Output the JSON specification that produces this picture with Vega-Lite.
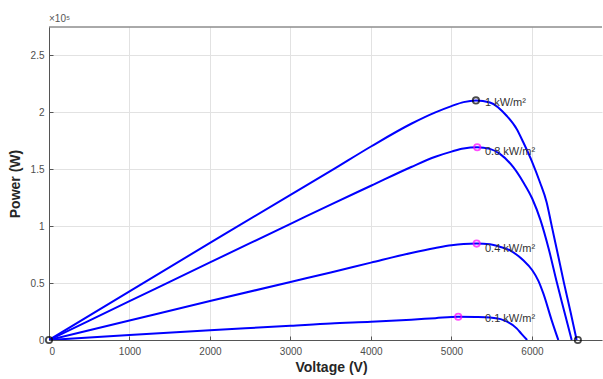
{
  "$schema": "https://vega.github.io/schema/vega-lite/v6.json",
  "width": 553,
  "height": 313,
  "autosize": {"type": "none"},
  "padding": {"left": 49, "top": 27, "right": 1, "bottom": 39},
  "background": "white",
  "config": {
    "view": {"stroke": null},
    "font": "Liberation Sans",
    "axis": {
      "labelFont": "Liberation Sans",
      "titleFont": "Liberation Sans",
      "labelFontSize": 10,
      "labelColor": "#4d4d4d",
      "titleFontSize": 14,
      "titleFontWeight": "bold",
      "titleColor": "#262626",
      "domainColor": "#555555",
      "gridColor": "#e2e2e2",
      "gridOpacity": 1,
      "ticks": true,
      "tickSize": -4,
      "tickColor": "#555555"
    }
  },
  "title": {
    "text": "×10⁵",
    "anchor": "start",
    "frame": "group",
    "fontSize": 10,
    "fontWeight": "normal",
    "color": "#555555",
    "offset": 3,
    "font": "Liberation Sans"
  },
  "datasets": {
    "curves": [
      {"level": "1", "V": 0, "P": 0}, {"level": "1", "V": 1000, "P": 42800}, {"level": "1", "V": 2000, "P": 85300},
      {"level": "1", "V": 3000, "P": 127600}, {"level": "1", "V": 3500, "P": 148500}, {"level": "1", "V": 4000, "P": 170000},
      {"level": "1", "V": 4500, "P": 190000}, {"level": "1", "V": 4800, "P": 200000}, {"level": "1", "V": 5000, "P": 205500},
      {"level": "1", "V": 5150, "P": 209000}, {"level": "1", "V": 5304, "P": 210500}, {"level": "1", "V": 5478, "P": 208700},
      {"level": "1", "V": 5685, "P": 197000}, {"level": "1", "V": 5810, "P": 185400}, {"level": "1", "V": 5892, "P": 173700},
      {"level": "1", "V": 6004, "P": 156100}, {"level": "1", "V": 6099, "P": 138600}, {"level": "1", "V": 6182, "P": 121100},
      {"level": "1", "V": 6244, "P": 100700}, {"level": "1", "V": 6320, "P": 75800}, {"level": "1", "V": 6398, "P": 50000},
      {"level": "1", "V": 6478, "P": 25000}, {"level": "1", "V": 6555, "P": 0},

      {"level": "0.8", "V": 0, "P": 0}, {"level": "0.8", "V": 1000, "P": 34100}, {"level": "0.8", "V": 2000, "P": 68200},
      {"level": "0.8", "V": 3000, "P": 102000}, {"level": "0.8", "V": 3500, "P": 119000}, {"level": "0.8", "V": 4000, "P": 135500},
      {"level": "0.8", "V": 4500, "P": 152000}, {"level": "0.8", "V": 4800, "P": 161000}, {"level": "0.8", "V": 5000, "P": 165500},
      {"level": "0.8", "V": 5150, "P": 168300}, {"level": "0.8", "V": 5320, "P": 169300}, {"level": "0.8", "V": 5478, "P": 167900},
      {"level": "0.8", "V": 5602, "P": 163500}, {"level": "0.8", "V": 5768, "P": 151800}, {"level": "0.8", "V": 5892, "P": 138600},
      {"level": "0.8", "V": 6004, "P": 124100}, {"level": "0.8", "V": 6107, "P": 105100}, {"level": "0.8", "V": 6210, "P": 79500},
      {"level": "0.8", "V": 6311, "P": 50000}, {"level": "0.8", "V": 6400, "P": 25500}, {"level": "0.8", "V": 6493, "P": 0},

      {"level": "0.4", "V": 0, "P": 0}, {"level": "0.4", "V": 1000, "P": 17100}, {"level": "0.4", "V": 2000, "P": 34200},
      {"level": "0.4", "V": 3000, "P": 51000}, {"level": "0.4", "V": 3500, "P": 59300}, {"level": "0.4", "V": 4000, "P": 68000},
      {"level": "0.4", "V": 4500, "P": 76500}, {"level": "0.4", "V": 4800, "P": 80800}, {"level": "0.4", "V": 5000, "P": 83200},
      {"level": "0.4", "V": 5150, "P": 84300}, {"level": "0.4", "V": 5313, "P": 84700}, {"level": "0.4", "V": 5478, "P": 84100},
      {"level": "0.4", "V": 5600, "P": 82000}, {"level": "0.4", "V": 5727, "P": 78800}, {"level": "0.4", "V": 5892, "P": 70000},
      {"level": "0.4", "V": 6004, "P": 61300}, {"level": "0.4", "V": 6080, "P": 52000}, {"level": "0.4", "V": 6141, "P": 40900},
      {"level": "0.4", "V": 6244, "P": 17500}, {"level": "0.4", "V": 6327, "P": 0},

      {"level": "0.1", "V": 0, "P": 0}, {"level": "0.1", "V": 1000, "P": 4300}, {"level": "0.1", "V": 2000, "P": 8500},
      {"level": "0.1", "V": 3000, "P": 12500}, {"level": "0.1", "V": 3500, "P": 14600}, {"level": "0.1", "V": 4000, "P": 16000},
      {"level": "0.1", "V": 4500, "P": 17800}, {"level": "0.1", "V": 4800, "P": 19200}, {"level": "0.1", "V": 5084, "P": 20400},
      {"level": "0.1", "V": 5300, "P": 20200}, {"level": "0.1", "V": 5478, "P": 19700}, {"level": "0.1", "V": 5644, "P": 17500},
      {"level": "0.1", "V": 5810, "P": 10200}, {"level": "0.1", "V": 5870, "P": 5400}, {"level": "0.1", "V": 5940, "P": 0}
    ],
    "markers": [
      {"V": 0, "P": 0, "color": "#000000"},
      {"V": 5304, "P": 210500, "color": "#000000"},
      {"V": 6570, "P": 0, "color": "#000000"},
      {"V": 5320, "P": 169300, "color": "#ff00ff"},
      {"V": 5313, "P": 84700, "color": "#ff00ff"},
      {"V": 5084, "P": 20400, "color": "#ff00ff"}
    ],
    "labels": [
      {"V": 5416, "P": 207800, "text": "1 kW/m²"},
      {"V": 5416, "P": 164900, "text": "0.8 kW/m²"},
      {"V": 5416, "P": 80300, "text": "0.4 kW/m²"},
      {"V": 5416, "P": 18400, "text": "0.1 kW/m²"}
    ],
    "frame": [{"P": 275000}]
  },
  "layer": [
    {
      "data": {"name": "curves"},
      "mark": {"type": "line", "color": "#0000ff", "strokeWidth": 2, "clip": true, "interpolate": "monotone"},
      "encoding": {
        "x": {
          "field": "V", "type": "quantitative",
          "scale": {"domain": [0, 6870], "nice": false},
          "axis": {
            "values": [0, 1000, 2000, 3000, 4000, 5000, 6000],
            "title": "Voltage (V)",
            "titleX": 282,
            "labelPadding": 10,
            "titlePadding": 4,
            "format": "d"
          }
        },
        "y": {
          "field": "P", "type": "quantitative",
          "scale": {"domain": [0, 275000], "nice": false},
          "axis": {
            "values": [0, 50000, 100000, 150000, 200000, 250000],
            "labelExpr": "format(datum.value / 100000, '~g')",
            "title": "Power (W)",
            "labelPadding": 9,
            "titlePadding": 8
          }
        },
        "detail": {"field": "level", "type": "nominal"}
      }
    },
    {
      "data": {"name": "frame"},
      "mark": {"type": "rule", "color": "#555555", "strokeWidth": 1},
      "encoding": {"y": {"field": "P", "type": "quantitative"}}
    },
    {
      "data": {"name": "labels"},
      "mark": {"type": "text", "align": "left", "baseline": "middle", "fontSize": 11, "color": "#333333", "font": "Liberation Sans"},
      "encoding": {
        "x": {"field": "V", "type": "quantitative"},
        "y": {"field": "P", "type": "quantitative"},
        "text": {"field": "text"}
      }
    },
    {
      "data": {"name": "markers"},
      "mark": {"type": "point", "shape": "circle", "filled": false, "size": 40, "strokeWidth": 1.8, "clip": false},
      "encoding": {
        "x": {"field": "V", "type": "quantitative"},
        "y": {"field": "P", "type": "quantitative"},
        "stroke": {"field": "color", "type": "nominal", "scale": null}
      }
    }
  ]
}
